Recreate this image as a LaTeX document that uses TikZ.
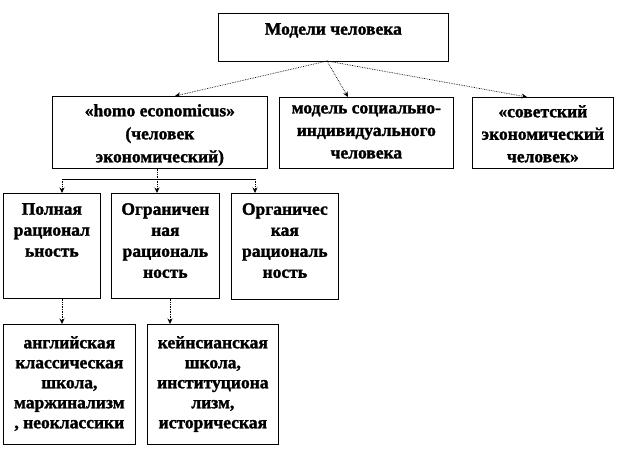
\documentclass[tikz,border=0pt]{standalone}
\usepackage{fontspec}
\setmainfont{Liberation Serif}[BoldFeatures={FakeBold=1.5}]
\usetikzlibrary{arrows.meta}
\begin{document}
\begin{tikzpicture}[x=1pt,y=-1pt,
  box/.style={draw=black, line width=0.7pt, minimum width=#1, inner sep=0pt, anchor=north west},
  txt/.style={anchor=north, inner sep=0pt, align=center, font=\fontsize{17.5}{21}\selectfont\bfseries},
  conn/.style={densely dotted, line width=0.7pt, -{Stealth[length=5.5pt,width=5pt]}},
  link/.style={line width=0.7pt}]
\useasboundingbox (0,0) rectangle (618,456);
% boxes
\node[box=230pt, minimum height=48pt] (top) at (218,13) {};
\node[box=215pt, minimum height=72pt] (A) at (52,96) {};
\node[box=174pt, minimum height=71pt] (B) at (279,97) {};
\node[box=141pt, minimum height=71pt] (C) at (472,97) {};
\node[box=97pt, minimum height=105pt] (A3) at (3,193) {};
\node[box=108pt, minimum height=105pt] (B3) at (111,193) {};
\node[box=107pt, minimum height=106pt] (C3) at (231,193) {};
\node[box=132pt, minimum height=120pt] (D1) at (3,324) {};
\node[box=131pt, minimum height=120pt] (D2) at (147,324) {};
% texts
\node[txt] (ttop) at ([yshift=-10pt]top.north) {Модели человека};
\node[txt, font=\fontsize{17.5}{23}\selectfont\bfseries] (tA) at ([yshift=-8pt]A.north) {«homo economicus»\\(человек\\экономический)};
\node[txt, font=\fontsize{17.5}{22.5}\selectfont\bfseries] (tB) at ([yshift=-8pt]B.north) {модель социально-\\индивидуального\\человека};
\node[txt, font=\fontsize{17.5}{22.5}\selectfont\bfseries] (tC) at ([yshift=-8pt]C.north) {«советский\\экономический\\человек»};
\node[txt] (tA3) at ([yshift=-10pt]A3.north) {Полная\\рационал\\ьность};
\node[txt] (tB3) at ([yshift=-10pt]B3.north) {Ограничен\\ная\\рациональ\\ность};
\node[txt] (tC3) at ([yshift=-10pt]C3.north) {Органичес\\кая\\рациональ\\ность};
\node[txt, font=\fontsize{17.5}{20}\selectfont\bfseries] (tD1) at ([yshift=-12pt]D1.north) {английская\\классическая\\школа,\\маржинализм\\, неоклассики};
\node[txt, font=\fontsize{17.5}{20}\selectfont\bfseries] (tD2) at ([yshift=-12pt]D2.north) {кейнсианская\\школа,\\институциона\\лизм,\\историческая};
% connectors from top
\coordinate (o) at (327,61);
\draw[conn] (o) -- (A.north -| 175,0);
\draw[conn] (o) -- (B.north -| 348,0);
\draw[conn] (o) -- (C.north -| 527,0);
% bracket
\coordinate (j) at (157,179);
\coordinate (jl) at (62,179);
\coordinate (jr) at (255,179);
\draw[densely dotted, line width=0.7pt] (A.south -| j) -- (j);
\draw[link] (jl) -- (jr);
\draw[conn] (jl) -- (A3.north -| jl);
\draw[conn] (j) -- (B3.north -| j);
\draw[conn] (jr) -- (C3.north -| jr);
% lower
\draw[conn] (A3.south -| 62,0) -- (D1.north -| 62,0);
\draw[conn] (B3.south -| 170,0) -- (D2.north -| 170,0);
\end{tikzpicture}
\end{document}
